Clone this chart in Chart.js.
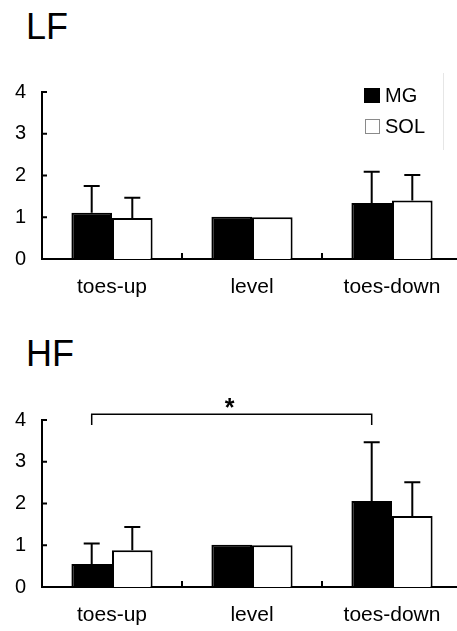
<!DOCTYPE html>
<html>
<head>
<meta charset="utf-8">
<script src="https://cdn.jsdelivr.net/npm/chart.js@4/dist/chart.umd.min.js"></script>
<style>
  html, body { margin: 0; padding: 0; background: #fff; overflow: hidden; width: 457px; height: 631px; }
  .title { position: absolute; left: 26px; font: 36px "Liberation Sans", Arial, sans-serif; line-height: 36px; color: #000; }
  canvas { position: absolute; left: 0; }
</style>
</head>
<body>
<div class="title" style="top:9px">LF</div>
<div class="title" style="top:336px">HF</div>
<canvas id="lfChart" width="470" height="249" style="top:60px"></canvas>
<canvas id="hfChart" width="470" height="249" style="top:388px"></canvas>
<script>
const categories = ["toes-up", "level", "toes-down"];
const seriesNames = ["MG", "SOL"];
const yTicks = [0, 1, 2, 3, 4];

// LF condition (mean and SD)
const lfMG = [1.11, 1.01, 1.34];
const lfMGsd = [0.64, 0, 0.75];
const lfSOL = [0.98, 1.0, 1.40];
const lfSOLsd = [0.49, 0, 0.61];

// HF condition (mean and SD)
const hfMG = [0.55, 1.01, 2.06];
const hfMGsd = [0.49, 0, 1.41];
const hfSOL = [0.88, 1.0, 1.70];
const hfSOLsd = [0.56, 0, 0.81];

// significance: toes-up MG vs toes-down MG
const sigPair = [0, 2];
const sigLabel = "*";

Chart.defaults.font.family = '"Liberation Sans", Arial, sans-serif';
Chart.defaults.color = "#000";

// upward whiskers only
const errorBars = {
  id: "errorBars",
  afterDatasetsDraw(chart) {
    const ctx = chart.ctx;
    const y = chart.scales.y;
    ctx.save();
    ctx.strokeStyle = "#000";
    ctx.lineWidth = 2;
    chart.data.datasets.forEach((ds, i) => {
      chart.getDatasetMeta(i).data.forEach((bar, j) => {
        const sd = ds.sd[j];
        if (!sd) return;
        const top = y.getPixelForValue(ds.data[j] + sd);
        ctx.beginPath();
        ctx.moveTo(bar.x, bar.y);
        ctx.lineTo(bar.x, top);
        ctx.moveTo(bar.x - 8, top);
        ctx.lineTo(bar.x + 8, top);
        ctx.stroke();
      });
    });
    ctx.restore();
  }
};

// inward tick marks on both axes
const innerTicks = {
  id: "innerTicks",
  afterDraw(chart) {
    const ctx = chart.ctx;
    const x = chart.scales.x, y = chart.scales.y;
    const area = chart.chartArea;
    ctx.save();
    ctx.strokeStyle = "#000";
    ctx.lineWidth = 2;
    ctx.beginPath();
    yTicks.slice(1).forEach(v => {
      const py = y.getPixelForValue(v);
      ctx.moveTo(area.left, py);
      ctx.lineTo(area.left + 5, py);
    });
    for (let i = 1; i < categories.length; i++) {
      const px = (x.getPixelForValue(i - 1) + x.getPixelForValue(i)) / 2;
      ctx.moveTo(px, area.bottom);
      ctx.lineTo(px, area.bottom - 6);
    }
    ctx.stroke();
    ctx.restore();
  }
};

const boxLegend = {
  id: "boxLegend",
  afterDraw(chart, args, opts) {
    if (!opts.show) return;
    const ctx = chart.ctx;
    ctx.save();
    ctx.font = '20px "Liberation Sans", Arial, sans-serif';
    ctx.textBaseline = "middle";
    chart.data.datasets.forEach((ds, i) => {
      const top = 28 + i * 31;
      ctx.fillStyle = ds.backgroundColor;
      ctx.fillRect(364, top, 16, 15);
      if (i > 0) {
        ctx.strokeStyle = "#8a8a8a";
        ctx.lineWidth = 1;
        ctx.strokeRect(365.5, top + 0.5, 14, 14);
      }
      ctx.fillStyle = "#000";
      ctx.fillText(ds.label, 385, top + 8);
    });
    ctx.strokeStyle = "#e6e6e6";
    ctx.lineWidth = 1;
    ctx.beginPath();
    ctx.moveTo(443.5, 13);
    ctx.lineTo(443.5, 90);
    ctx.stroke();
    ctx.restore();
  }
};

const sigBracket = {
  id: "sigBracket",
  afterDraw(chart, args, opts) {
    if (!opts.show) return;
    const ctx = chart.ctx;
    const y = chart.scales.y;
    const meta = chart.getDatasetMeta(0);
    const x1 = meta.data[sigPair[0]].x;
    const x2 = meta.data[sigPair[1]].x;
    const yb = y.getPixelForValue(4.14);
    const yl = y.getPixelForValue(3.88);
    ctx.save();
    ctx.strokeStyle = "#000";
    ctx.lineWidth = 1.5;
    ctx.beginPath();
    ctx.moveTo(x1, yl);
    ctx.lineTo(x1, yb);
    ctx.lineTo(x2, yb);
    ctx.lineTo(x2, yl);
    ctx.stroke();
    ctx.fillStyle = "#000";
    ctx.font = 'bold 25px "Liberation Sans", Arial, sans-serif';
    ctx.textAlign = "center";
    ctx.textBaseline = "alphabetic";
    ctx.fillText(sigLabel, (x1 + x2) / 2 - 2, yb + 2);
    ctx.restore();
  }
};

function makeChart(id, mg, mgSd, sol, solSd, showLegend, showSig) {
  let ctx = document.getElementById(id).getContext("2d");
  return new Chart(ctx, {
    type: "bar",
    data: {
      labels: categories,
      datasets: [{
        label: seriesNames[0],
        data: mg,
        sd: mgSd,
        backgroundColor: "#000",
        borderColor: "#000",
        borderWidth: 2,
      }, {
        label: seriesNames[1],
        data: sol,
        sd: solSd,
        backgroundColor: "#fff",
        borderColor: "#000",
        borderWidth: 2,
      }]
    },
    options: {
      responsive: false,
      animation: false,
      devicePixelRatio: 1,
      categoryPercentage: 0.58,
      barPercentage: 1.0,
      layout: {
        padding: { top: 32, right: 8, left: 0, bottom: 0 }
      },
      plugins: {
        legend: { display: false },
        tooltip: { enabled: false },
        boxLegend: { show: showLegend },
        sigBracket: { show: showSig },
      },
      scales: {
        x: {
          grid: { display: false, drawTicks: false },
          border: { color: "#000", width: 2 },
          ticks: { font: { size: 21 }, color: "#000", padding: 16, maxRotation: 0 },
          afterFit(scale) { scale.height = 50; }
        },
        y: {
          min: 0,
          max: 4,
          grid: { display: false, drawTicks: false },
          border: { color: "#000", width: 2 },
          ticks: { stepSize: 1, font: { size: 20 }, color: "#000", padding: 16 },
          afterFit(scale) { scale.width = 42; }
        }
      }
    },
    plugins: [errorBars, innerTicks, boxLegend, sigBracket]
  });
}

let lfChart = makeChart("lfChart", lfMG, lfMGsd, lfSOL, lfSOLsd, true, false);
let hfChart = makeChart("hfChart", hfMG, hfMGsd, hfSOL, hfSOLsd, false, true);
</script>
</body>
</html>
